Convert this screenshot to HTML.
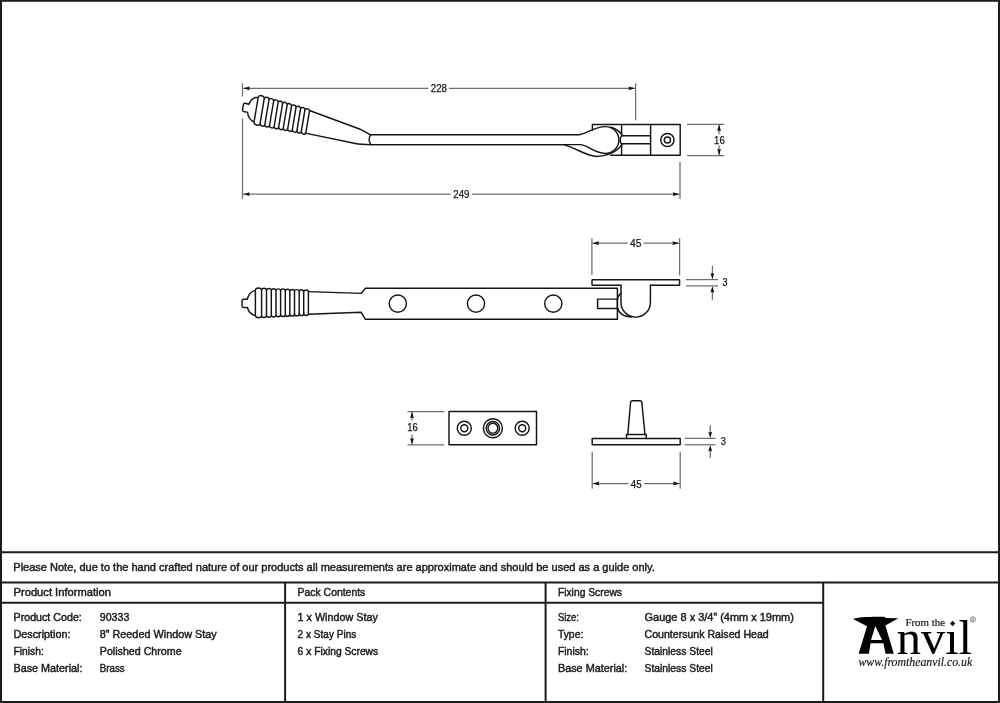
<!DOCTYPE html>
<html><head><meta charset="utf-8"><title>8&quot; Reeded Window Stay</title>
<style>html,body{margin:0;padding:0;background:#fff;width:1000px;height:703px;overflow:hidden} svg{will-change:transform}</style>
</head><body>
<svg width="1000" height="703" viewBox="0 0 1000 703" style="display:block">
<rect x="0" y="0" width="1000" height="703" fill="#fff"/>
<g transform="translate(243.0,107.0) matrix(0.9724,0.2334,-0.165,0.9863,0,0) translate(-242,-303.35)"><path d="M247.4,299.2 L243.4,299.2 Q242,299.3 242,300.9 L242,305.8 Q242,307.4 243.4,307.5 L247.4,307.5 M247.4,299.2 C248.4,294.6 251.4,291.3 255.4,290.4 M247.4,307.5 C248.4,311.6 251.4,314.6 255.4,315.6 M255.4,290.10 C255.70,287.43 261.30,287.43 261.6,290.10 M255.4,315.70 C255.70,318.37 261.30,318.37 261.6,315.70 M261.6,290.29 C261.90,287.62 266.20,287.62 266.5,290.29 M261.6,315.47 C261.90,318.14 266.20,318.14 266.5,315.47 M266.5,290.48 C266.80,287.81 271.00,287.81 271.3,290.48 M266.5,315.24 C266.80,317.91 271.00,317.91 271.3,315.24 M271.3,290.67 C271.60,288.00 275.70,288.00 276.0,290.67 M271.3,315.01 C271.60,317.68 275.70,317.68 276.0,315.01 M276.0,290.86 C276.30,288.19 280.30,288.19 280.6,290.86 M276.0,314.78 C276.30,317.45 280.30,317.45 280.6,314.78 M280.6,291.05 C280.90,288.38 285.00,288.38 285.3,291.05 M280.6,314.55 C280.90,317.22 285.00,317.22 285.3,314.55 M285.3,291.24 C285.60,288.57 289.50,288.57 289.8,291.24 M285.3,314.32 C285.60,316.99 289.50,316.99 289.8,314.32 M289.8,291.43 C290.10,288.76 294.20,288.76 294.5,291.43 M289.8,314.09 C290.10,316.76 294.20,316.76 294.5,314.09 M294.5,291.62 C294.80,288.95 298.90,288.95 299.2,291.62 M294.5,313.86 C294.80,316.53 298.90,316.53 299.2,313.86 M299.2,291.81 C299.50,289.14 303.40,289.14 303.7,291.81 M299.2,313.63 C299.50,316.30 303.40,316.30 303.7,313.63 M303.7,292.00 C304.00,289.33 308.10,289.33 308.4,291.60 M303.7,313.40 C304.00,316.07 308.10,316.07 308.4,314.20 M255.4,290.4 L255.4,315.6 M261.6,290.10 L261.6,315.70 M266.5,290.29 L266.5,315.47 M271.3,290.48 L271.3,315.24 M276.0,290.67 L276.0,315.01 M280.6,290.86 L280.6,314.78 M285.3,291.05 L285.3,314.55 M289.8,291.24 L289.8,314.32 M294.5,291.43 L294.5,314.09 M299.2,291.62 L299.2,313.86 M303.7,291.81 L303.7,313.63 M308.4,291.6 L308.4,314.2" stroke="#141414" stroke-width="1.45" fill="none" stroke-linejoin="round" stroke-linecap="round"/></g>
<path d="M310.1,110.7 L360.3,129.3 Q364,131 370.4,134.8" stroke="#141414" stroke-width="1.45" fill="none" stroke-linejoin="round" stroke-linecap="round"/>
<path d="M305.3,133.1 L355.5,143.5 Q360,144.6 371,144.6" stroke="#141414" stroke-width="1.45" fill="none" stroke-linejoin="round" stroke-linecap="round"/>
<path d="M370.6,134.8 Q367.6,139.7 370.8,144.6" stroke="#141414" stroke-width="1.45" fill="none" stroke-linejoin="round" stroke-linecap="round"/>
<line x1="370.6" y1="134.8" x2="578.1" y2="134.8" stroke="#141414" stroke-width="1.45" fill="none" stroke-linejoin="round" stroke-linecap="round"/>
<line x1="370.8" y1="144.6" x2="580.2" y2="144.6" stroke="#141414" stroke-width="1.45" fill="none" stroke-linejoin="round" stroke-linecap="round"/>
<line x1="371" y1="144.6" x2="563" y2="144.6" stroke="#141414" stroke-width="1.45" fill="none" stroke-linejoin="round" stroke-linecap="round"/>
<path d="M578.1,134.8 C586,134.8 593,126.6 605.5,126.6 A13.4,13.4 0 1 1 605.5,153.4 C593,153.4 588,144.6 580.2,144.6" stroke="#141414" stroke-width="1.45" fill="none" stroke-linejoin="round" stroke-linecap="round"/>
<path d="M563,144.6 C575,147 586,156.4 597,156.4 C606,156.4 617,152 621.6,145.2 L622.4,143.8 L650.6,143.8" stroke="#141414" stroke-width="1.45" fill="none" stroke-linejoin="round" stroke-linecap="round"/>
<path d="M611.0,127.2 C615.8,128.6 619.6,131.4 621.6,134.4 L622.4,135.8 L650.6,135.8" stroke="#141414" stroke-width="1.45" fill="none" stroke-linejoin="round" stroke-linecap="round"/>
<path d="M621.9,135.4 C619.6,138.0 619.6,141.8 621.9,144.2" stroke="#141414" stroke-width="1.45" fill="none" stroke-linejoin="round" stroke-linecap="round"/>
<path d="M592.4,130.2 L592.4,124.4 L680.2,124.4 L680.2,155.3 L610.6,155.3" stroke="#141414" stroke-width="1.45" fill="none" stroke-linejoin="round" stroke-linecap="round"/>
<line x1="621.6" y1="124.4" x2="621.6" y2="134.0" stroke="#141414" stroke-width="1.45" fill="none" stroke-linejoin="round" stroke-linecap="round"/>
<line x1="621.6" y1="143.8" x2="621.6" y2="155.3" stroke="#141414" stroke-width="1.45" fill="none" stroke-linejoin="round" stroke-linecap="round"/>
<line x1="650.6" y1="124.4" x2="650.6" y2="155.3" stroke="#141414" stroke-width="1.45" fill="none" stroke-linejoin="round" stroke-linecap="round"/>
<circle cx="667.4" cy="140" r="6.6" stroke="#141414" stroke-width="1.45" fill="none" stroke-linejoin="round" stroke-linecap="round"/>
<circle cx="667.4" cy="140" r="3.1" stroke="#141414" stroke-width="1.45" fill="none" stroke-linejoin="round" stroke-linecap="round"/>
<line x1="242.5" y1="83.2" x2="242.5" y2="96.5" stroke="#6e6e6e" stroke-width="1.25" fill="none"/>
<line x1="242.5" y1="118.6" x2="242.5" y2="198.7" stroke="#6e6e6e" stroke-width="1.25" fill="none"/>
<line x1="635.6" y1="83.2" x2="635.6" y2="120.4" stroke="#6e6e6e" stroke-width="1.25" fill="none"/>
<line x1="680.0" y1="162" x2="680.0" y2="198.7" stroke="#6e6e6e" stroke-width="1.25" fill="none"/>
<line x1="243.2" y1="88.3" x2="428.2" y2="88.3" stroke="#6e6e6e" stroke-width="1.25" fill="none"/>
<line x1="449.0" y1="88.3" x2="635.0" y2="88.3" stroke="#6e6e6e" stroke-width="1.25" fill="none"/>
<path d="M243.20,88.30 L249.70,86.40 Q248.50,88.30 249.70,90.20 Z" fill="#111"/>
<path d="M635.00,88.30 L628.50,90.20 Q629.70,88.30 628.50,86.40 Z" fill="#111"/>
<text x="430.75" y="91.6" font-family="Liberation Sans" font-size="10.8" text-anchor="start" textLength="16.25" lengthAdjust="spacingAndGlyphs" fill="#141414" stroke="#1a1a1a" stroke-width="0.25">228</text>
<line x1="243.2" y1="194.2" x2="450.8" y2="194.2" stroke="#6e6e6e" stroke-width="1.25" fill="none"/>
<line x1="472.0" y1="194.2" x2="679.4" y2="194.2" stroke="#6e6e6e" stroke-width="1.25" fill="none"/>
<path d="M243.20,194.20 L249.70,192.30 Q248.50,194.20 249.70,196.10 Z" fill="#111"/>
<path d="M679.40,194.20 L672.90,196.10 Q674.10,194.20 672.90,192.30 Z" fill="#111"/>
<text x="453.25" y="197.85" font-family="Liberation Sans" font-size="10.8" text-anchor="start" textLength="16.25" lengthAdjust="spacingAndGlyphs" fill="#141414" stroke="#1a1a1a" stroke-width="0.25">249</text>
<line x1="687.1" y1="124.4" x2="724.1" y2="124.4" stroke="#6e6e6e" stroke-width="1.25" fill="none"/>
<line x1="687.1" y1="155.5" x2="724.1" y2="155.5" stroke="#6e6e6e" stroke-width="1.25" fill="none"/>
<line x1="719.1" y1="124.6" x2="719.1" y2="134.2" stroke="#6e6e6e" stroke-width="1.25" fill="none"/>
<line x1="719.1" y1="145.5" x2="719.1" y2="155.3" stroke="#6e6e6e" stroke-width="1.25" fill="none"/>
<path d="M719.10,124.60 L721.00,131.10 Q719.10,129.90 717.20,131.10 Z" fill="#111"/>
<path d="M719.10,155.30 L717.20,148.80 Q719.10,150.00 721.00,148.80 Z" fill="#111"/>
<text x="714.1" y="143.6" font-family="Liberation Sans" font-size="10.8" text-anchor="start" textLength="10.7" lengthAdjust="spacingAndGlyphs" fill="#141414" stroke="#1a1a1a" stroke-width="0.25">16</text>
<path d="M247.4,299.2 L243.4,299.2 Q242,299.3 242,300.9 L242,305.8 Q242,307.4 243.4,307.5 L247.4,307.5 M247.4,299.2 C248.4,294.6 251.4,291.3 255.4,290.4 M247.4,307.5 C248.4,311.6 251.4,314.6 255.4,315.6 M255.4,290.10 C255.70,287.43 261.30,287.43 261.6,290.10 M255.4,315.70 C255.70,318.37 261.30,318.37 261.6,315.70 M261.6,290.29 C261.90,287.62 266.20,287.62 266.5,290.29 M261.6,315.47 C261.90,318.14 266.20,318.14 266.5,315.47 M266.5,290.48 C266.80,287.81 271.00,287.81 271.3,290.48 M266.5,315.24 C266.80,317.91 271.00,317.91 271.3,315.24 M271.3,290.67 C271.60,288.00 275.70,288.00 276.0,290.67 M271.3,315.01 C271.60,317.68 275.70,317.68 276.0,315.01 M276.0,290.86 C276.30,288.19 280.30,288.19 280.6,290.86 M276.0,314.78 C276.30,317.45 280.30,317.45 280.6,314.78 M280.6,291.05 C280.90,288.38 285.00,288.38 285.3,291.05 M280.6,314.55 C280.90,317.22 285.00,317.22 285.3,314.55 M285.3,291.24 C285.60,288.57 289.50,288.57 289.8,291.24 M285.3,314.32 C285.60,316.99 289.50,316.99 289.8,314.32 M289.8,291.43 C290.10,288.76 294.20,288.76 294.5,291.43 M289.8,314.09 C290.10,316.76 294.20,316.76 294.5,314.09 M294.5,291.62 C294.80,288.95 298.90,288.95 299.2,291.62 M294.5,313.86 C294.80,316.53 298.90,316.53 299.2,313.86 M299.2,291.81 C299.50,289.14 303.40,289.14 303.7,291.81 M299.2,313.63 C299.50,316.30 303.40,316.30 303.7,313.63 M303.7,292.00 C304.00,289.33 308.10,289.33 308.4,291.60 M303.7,313.40 C304.00,316.07 308.10,316.07 308.4,314.20 M255.4,290.4 L255.4,315.6 M261.6,290.10 L261.6,315.70 M266.5,290.29 L266.5,315.47 M271.3,290.48 L271.3,315.24 M276.0,290.67 L276.0,315.01 M280.6,290.86 L280.6,314.78 M285.3,291.05 L285.3,314.55 M289.8,291.24 L289.8,314.32 M294.5,291.43 L294.5,314.09 M299.2,291.62 L299.2,313.86 M303.7,291.81 L303.7,313.63 M308.4,291.6 L308.4,314.2" stroke="#141414" stroke-width="1.45" fill="none" stroke-linejoin="round" stroke-linecap="round"/>
<path d="M308.4,291.6 L361.2,293.4 L365.4,288.3 L617.4,288.3 L617.4,319.3 L365.4,319.3 L361.2,312.3 L308.4,314.2" stroke="#141414" stroke-width="1.45" fill="none" stroke-linejoin="round" stroke-linecap="round"/>
<circle cx="397.8" cy="303.6" r="8.6" stroke="#141414" stroke-width="1.45" fill="none" stroke-linejoin="round" stroke-linecap="round"/>
<circle cx="476.0" cy="303.6" r="8.6" stroke="#141414" stroke-width="1.45" fill="none" stroke-linejoin="round" stroke-linecap="round"/>
<circle cx="553.3" cy="303.6" r="8.6" stroke="#141414" stroke-width="1.45" fill="none" stroke-linejoin="round" stroke-linecap="round"/>
<path d="M617.4,299.1 L597.6,299.1 L597.6,308.5 L617.4,308.5" stroke="#141414" stroke-width="1.45" fill="none" stroke-linejoin="round" stroke-linecap="round"/>
<path d="M621.0,285.3 L592.6,285.3 Q592,285.3 592,284.7 L592,280.4 Q592,279.8 592.6,279.8 L679,279.8 Q679.6,279.8 679.6,280.4 L679.6,284.7 Q679.6,285.3 679,285.3 L650.4,285.3" stroke="#141414" stroke-width="1.45" fill="none" stroke-linejoin="round" stroke-linecap="round"/>
<path d="M621.0,285.3 L621.0,302.4 A14.7,14.7 0 0 0 650.4,302.4 L650.4,285.3" stroke="#141414" stroke-width="1.45" fill="none" stroke-linejoin="round" stroke-linecap="round"/>
<path d="M620.9,293.4 C618.6,295.2 617.4,297.5 617.4,300.5 L617.4,307.5 C618.5,312.5 623.5,316.4 631,317.1" stroke="#141414" stroke-width="1.45" fill="none" stroke-linejoin="round" stroke-linecap="round"/>
<line x1="591.9" y1="238.3" x2="591.9" y2="275.3" stroke="#6e6e6e" stroke-width="1.25" fill="none"/>
<line x1="679.6" y1="238.3" x2="679.6" y2="275.3" stroke="#6e6e6e" stroke-width="1.25" fill="none"/>
<line x1="592.5" y1="243.2" x2="627.8" y2="243.2" stroke="#6e6e6e" stroke-width="1.25" fill="none"/>
<line x1="643.5" y1="243.2" x2="679.0" y2="243.2" stroke="#6e6e6e" stroke-width="1.25" fill="none"/>
<path d="M592.50,243.20 L599.00,241.30 Q597.80,243.20 599.00,245.10 Z" fill="#111"/>
<path d="M679.00,243.20 L672.50,245.10 Q673.70,243.20 672.50,241.30 Z" fill="#111"/>
<text x="630.0" y="246.6" font-family="Liberation Sans" font-size="10.8" text-anchor="start" textLength="11.3" lengthAdjust="spacingAndGlyphs" fill="#141414" stroke="#1a1a1a" stroke-width="0.25">45</text>
<line x1="686.0" y1="279.6" x2="718.0" y2="279.6" stroke="#6e6e6e" stroke-width="1.25" fill="none"/>
<line x1="686.0" y1="285.9" x2="718.0" y2="285.9" stroke="#6e6e6e" stroke-width="1.25" fill="none"/>
<line x1="712.4" y1="266" x2="712.4" y2="274" stroke="#6e6e6e" stroke-width="1.25" fill="none"/>
<line x1="712.4" y1="292" x2="712.4" y2="299.8" stroke="#6e6e6e" stroke-width="1.25" fill="none"/>
<path d="M712.40,279.40 L710.50,272.90 Q712.40,274.10 714.30,272.90 Z" fill="#111"/>
<path d="M712.40,286.10 L714.30,292.60 Q712.40,291.40 710.50,292.60 Z" fill="#111"/>
<text x="722.5" y="286.3" font-family="Liberation Sans" font-size="10.8" text-anchor="start" textLength="5.0" lengthAdjust="spacingAndGlyphs" fill="#141414" stroke="#1a1a1a" stroke-width="0.25">3</text>
<rect x="449" y="411.5" width="87.5" height="33.3" stroke="#141414" stroke-width="1.45" fill="none" stroke-linejoin="round" stroke-linecap="round"/>
<circle cx="464.3" cy="428.2" r="7.0" stroke="#141414" stroke-width="1.45" fill="none" stroke-linejoin="round" stroke-linecap="round"/>
<circle cx="464.3" cy="428.2" r="3.5" stroke="#141414" stroke-width="1.45" fill="none" stroke-linejoin="round" stroke-linecap="round"/>
<circle cx="522.2" cy="428.2" r="7.0" stroke="#141414" stroke-width="1.45" fill="none" stroke-linejoin="round" stroke-linecap="round"/>
<circle cx="522.2" cy="428.2" r="3.5" stroke="#141414" stroke-width="1.45" fill="none" stroke-linejoin="round" stroke-linecap="round"/>
<circle cx="492.9" cy="428.2" r="9.5" stroke="#141414" stroke-width="1.45" fill="none" stroke-linejoin="round" stroke-linecap="round"/>
<circle cx="492.9" cy="428.2" r="6.7" stroke="#141414" stroke-width="1.45" fill="none" stroke-linejoin="round" stroke-linecap="round"/>
<circle cx="492.9" cy="428.2" r="4.9" stroke="#141414" stroke-width="1.45" fill="none" stroke-linejoin="round" stroke-linecap="round"/>
<line x1="407.5" y1="411.5" x2="444.3" y2="411.5" stroke="#6e6e6e" stroke-width="1.25" fill="none"/>
<line x1="407.5" y1="444.8" x2="444.3" y2="444.8" stroke="#6e6e6e" stroke-width="1.25" fill="none"/>
<line x1="412" y1="411.7" x2="412" y2="420.5" stroke="#6e6e6e" stroke-width="1.25" fill="none"/>
<line x1="412" y1="434.5" x2="412" y2="444.6" stroke="#6e6e6e" stroke-width="1.25" fill="none"/>
<path d="M412.00,411.70 L413.90,418.20 Q412.00,417.00 410.10,418.20 Z" fill="#111"/>
<path d="M412.00,444.60 L410.10,438.10 Q412.00,439.30 413.90,438.10 Z" fill="#111"/>
<text x="407.2" y="430.9" font-family="Liberation Sans" font-size="10.0" text-anchor="start" textLength="10.5" lengthAdjust="spacingAndGlyphs" fill="#141414" stroke="#1a1a1a" stroke-width="0.25">16</text>
<rect x="592.2" y="438.4" width="88" height="6.35" stroke="#141414" stroke-width="1.45" fill="none" stroke-linejoin="round" stroke-linecap="round"/>
<path d="M626.5,438.4 L626.5,434.5 L646.2,434.5 L646.2,438.4" stroke="#141414" stroke-width="1.45" fill="none" stroke-linejoin="round" stroke-linecap="round"/>
<path d="M627.75,434.5 L630.6,402.2 Q630.9,400.8 632.2,400.8 L640.2,400.8 Q641.5,400.8 641.8,402.2 L645,434.5" stroke="#141414" stroke-width="1.45" fill="none" stroke-linejoin="round" stroke-linecap="round"/>
<line x1="684.75" y1="438.4" x2="715.5" y2="438.4" stroke="#6e6e6e" stroke-width="1.25" fill="none"/>
<line x1="684.75" y1="444.75" x2="715.5" y2="444.75" stroke="#6e6e6e" stroke-width="1.25" fill="none"/>
<line x1="710.25" y1="425.3" x2="710.25" y2="432" stroke="#6e6e6e" stroke-width="1.25" fill="none"/>
<line x1="710.25" y1="451" x2="710.25" y2="458" stroke="#6e6e6e" stroke-width="1.25" fill="none"/>
<path d="M710.25,438.20 L708.35,431.70 Q710.25,432.90 712.15,431.70 Z" fill="#111"/>
<path d="M710.25,444.95 L712.15,451.45 Q710.25,450.25 708.35,451.45 Z" fill="#111"/>
<text x="720.7" y="444.8" font-family="Liberation Sans" font-size="10.6" text-anchor="start" textLength="5.2" lengthAdjust="spacingAndGlyphs" fill="#141414" stroke="#1a1a1a" stroke-width="0.25">3</text>
<line x1="592.2" y1="452" x2="592.2" y2="488.8" stroke="#6e6e6e" stroke-width="1.25" fill="none"/>
<line x1="680.2" y1="452" x2="680.2" y2="488.8" stroke="#6e6e6e" stroke-width="1.25" fill="none"/>
<line x1="592.8" y1="483.5" x2="628.5" y2="483.5" stroke="#6e6e6e" stroke-width="1.25" fill="none"/>
<line x1="644.25" y1="483.5" x2="679.6" y2="483.5" stroke="#6e6e6e" stroke-width="1.25" fill="none"/>
<path d="M592.80,483.50 L599.30,481.60 Q598.10,483.50 599.30,485.40 Z" fill="#111"/>
<path d="M679.60,483.50 L673.10,485.40 Q674.30,483.50 673.10,481.60 Z" fill="#111"/>
<text x="630.75" y="487.8" font-family="Liberation Sans" font-size="10.8" text-anchor="start" textLength="10.95" lengthAdjust="spacingAndGlyphs" fill="#141414" stroke="#1a1a1a" stroke-width="0.25">45</text>
<rect x="1" y="0.8" width="998" height="701.2" stroke="#1c1c1c" stroke-width="2" fill="none"/>
<line x1="0" y1="552.2" x2="1000" y2="552.2" stroke="#1c1c1c" stroke-width="2" fill="none"/>
<line x1="0" y1="582.4" x2="1000" y2="582.4" stroke="#1c1c1c" stroke-width="2" fill="none"/>
<line x1="0" y1="602.8" x2="823.2" y2="602.8" stroke="#1c1c1c" stroke-width="2" fill="none"/>
<line x1="285.1" y1="582.4" x2="285.1" y2="703" stroke="#1c1c1c" stroke-width="2" fill="none"/>
<line x1="545.6" y1="582.4" x2="545.6" y2="703" stroke="#1c1c1c" stroke-width="2" fill="none"/>
<line x1="823.2" y1="582.4" x2="823.2" y2="703" stroke="#1c1c1c" stroke-width="2" fill="none"/>
<text x="13.3" y="571.0" font-family="Liberation Sans" font-size="10.2" text-anchor="start" textLength="641.5" lengthAdjust="spacingAndGlyphs" fill="#1e1e1e" stroke="#1a1a1a" stroke-width="0.42">Please Note, due to the hand crafted nature of our products all measurements are approximate and should be used as a guide only.</text>
<text x="13.5" y="595.5" font-family="Liberation Sans" font-size="10.2" text-anchor="start" textLength="97.5" lengthAdjust="spacingAndGlyphs" fill="#1e1e1e" stroke="#1a1a1a" stroke-width="0.42">Product Information</text>
<text x="297.6" y="595.5" font-family="Liberation Sans" font-size="10.2" text-anchor="start" textLength="67.7" lengthAdjust="spacingAndGlyphs" fill="#1e1e1e" stroke="#1a1a1a" stroke-width="0.42">Pack Contents</text>
<text x="557.9" y="595.5" font-family="Liberation Sans" font-size="10.2" text-anchor="start" textLength="64.1" lengthAdjust="spacingAndGlyphs" fill="#1e1e1e" stroke="#1a1a1a" stroke-width="0.42">Fixing Screws</text>
<text x="13.5" y="621.0" font-family="Liberation Sans" font-size="10.2" text-anchor="start" textLength="68.3" lengthAdjust="spacingAndGlyphs" fill="#1e1e1e" stroke="#1a1a1a" stroke-width="0.42">Product Code:</text>
<text x="99.8" y="621.0" font-family="Liberation Sans" font-size="10.2" text-anchor="start" textLength="29.5" lengthAdjust="spacingAndGlyphs" fill="#1e1e1e" stroke="#1a1a1a" stroke-width="0.42">90333</text>
<text x="13.5" y="638.0" font-family="Liberation Sans" font-size="10.2" text-anchor="start" textLength="57.0" lengthAdjust="spacingAndGlyphs" fill="#1e1e1e" stroke="#1a1a1a" stroke-width="0.42">Description:</text>
<text x="99.8" y="638.0" font-family="Liberation Sans" font-size="10.2" text-anchor="start" textLength="117.0" lengthAdjust="spacingAndGlyphs" fill="#1e1e1e" stroke="#1a1a1a" stroke-width="0.42">8” Reeded Window Stay</text>
<text x="13.5" y="654.8" font-family="Liberation Sans" font-size="10.2" text-anchor="start" textLength="30.3" lengthAdjust="spacingAndGlyphs" fill="#1e1e1e" stroke="#1a1a1a" stroke-width="0.42">Finish:</text>
<text x="99.8" y="654.8" font-family="Liberation Sans" font-size="10.2" text-anchor="start" textLength="81.8" lengthAdjust="spacingAndGlyphs" fill="#1e1e1e" stroke="#1a1a1a" stroke-width="0.42">Polished Chrome</text>
<text x="13.5" y="671.7" font-family="Liberation Sans" font-size="10.2" text-anchor="start" textLength="69.0" lengthAdjust="spacingAndGlyphs" fill="#1e1e1e" stroke="#1a1a1a" stroke-width="0.42">Base Material:</text>
<text x="99.8" y="671.7" font-family="Liberation Sans" font-size="10.2" text-anchor="start" textLength="24.8" lengthAdjust="spacingAndGlyphs" fill="#1e1e1e" stroke="#1a1a1a" stroke-width="0.42">Brass</text>
<text x="297.6" y="621.0" font-family="Liberation Sans" font-size="10.2" text-anchor="start" textLength="80.2" lengthAdjust="spacingAndGlyphs" fill="#1e1e1e" stroke="#1a1a1a" stroke-width="0.42">1 x Window Stay</text>
<text x="297.6" y="638.0" font-family="Liberation Sans" font-size="10.2" text-anchor="start" textLength="58.7" lengthAdjust="spacingAndGlyphs" fill="#1e1e1e" stroke="#1a1a1a" stroke-width="0.42">2 x Stay Pins</text>
<text x="297.6" y="654.8" font-family="Liberation Sans" font-size="10.2" text-anchor="start" textLength="80.6" lengthAdjust="spacingAndGlyphs" fill="#1e1e1e" stroke="#1a1a1a" stroke-width="0.42">6 x Fixing Screws</text>
<text x="557.9" y="621.0" font-family="Liberation Sans" font-size="10.2" text-anchor="start" textLength="20.9" lengthAdjust="spacingAndGlyphs" fill="#1e1e1e" stroke="#1a1a1a" stroke-width="0.42">Size:</text>
<text x="644.5" y="621.0" font-family="Liberation Sans" font-size="10.2" text-anchor="start" textLength="149.4" lengthAdjust="spacingAndGlyphs" fill="#1e1e1e" stroke="#1a1a1a" stroke-width="0.42">Gauge 8 x 3/4” (4mm x 19mm)</text>
<text x="557.9" y="638.0" font-family="Liberation Sans" font-size="10.2" text-anchor="start" textLength="25.4" lengthAdjust="spacingAndGlyphs" fill="#1e1e1e" stroke="#1a1a1a" stroke-width="0.42">Type:</text>
<text x="644.5" y="638.0" font-family="Liberation Sans" font-size="10.2" text-anchor="start" textLength="124.2" lengthAdjust="spacingAndGlyphs" fill="#1e1e1e" stroke="#1a1a1a" stroke-width="0.42">Countersunk Raised Head</text>
<text x="557.9" y="654.8" font-family="Liberation Sans" font-size="10.2" text-anchor="start" textLength="30.8" lengthAdjust="spacingAndGlyphs" fill="#1e1e1e" stroke="#1a1a1a" stroke-width="0.42">Finish:</text>
<text x="644.5" y="654.8" font-family="Liberation Sans" font-size="10.2" text-anchor="start" textLength="68.4" lengthAdjust="spacingAndGlyphs" fill="#1e1e1e" stroke="#1a1a1a" stroke-width="0.42">Stainless Steel</text>
<text x="557.9" y="671.7" font-family="Liberation Sans" font-size="10.2" text-anchor="start" textLength="69.4" lengthAdjust="spacingAndGlyphs" fill="#1e1e1e" stroke="#1a1a1a" stroke-width="0.42">Base Material:</text>
<text x="644.5" y="671.7" font-family="Liberation Sans" font-size="10.2" text-anchor="start" textLength="68.4" lengthAdjust="spacingAndGlyphs" fill="#1e1e1e" stroke="#1a1a1a" stroke-width="0.42">Stainless Steel</text>
<path d="M852.7,618.8 C858,617.2 870,616.4 884.3,616.8 L886,618 L898.4,618.3 L885.4,625.6 L893.8,653.7 L885.6,653.7 L883.4,643.2 L870.6,643.2 L868.9,653.7 L858.7,653.7 L867.0,626.3 Z M871.0,640.0 L882.1,640.0 L875.3,626.0 Z" fill="#000" fill-rule="evenodd"/>
<text x="896.8" y="653.7" font-family="Liberation Serif" font-size="49" textLength="75.2" lengthAdjust="spacingAndGlyphs" fill="#000" stroke="#000" stroke-width="0.1">nvıl</text>
<path d="M952.6,620.8 L955.2,623.5 L952.6,626.2 L950.0,623.5 Z" fill="#000"/>
<text x="905.4" y="625.8" font-family="Liberation Serif" font-size="10.6" text-anchor="start" textLength="39.6" lengthAdjust="spacingAndGlyphs" fill="#111" stroke="#1a1a1a" stroke-width="0.2">From the</text>
<circle cx="972.9" cy="619.4" r="2.6" stroke="#333" stroke-width="0.6" fill="none"/>
<text x="972.9" y="621.2" font-family="Liberation Serif" font-size="4.2" text-anchor="middle" fill="#333">R</text>
<text x="858.5" y="665.8" font-family="Liberation Serif" font-size="12.2" text-anchor="start" textLength="113.7" lengthAdjust="spacingAndGlyphs" font-style="italic" fill="#111" stroke="#1a1a1a" stroke-width="0.15">www.fromtheanvil.co.uk</text>
</svg>
</body></html>
